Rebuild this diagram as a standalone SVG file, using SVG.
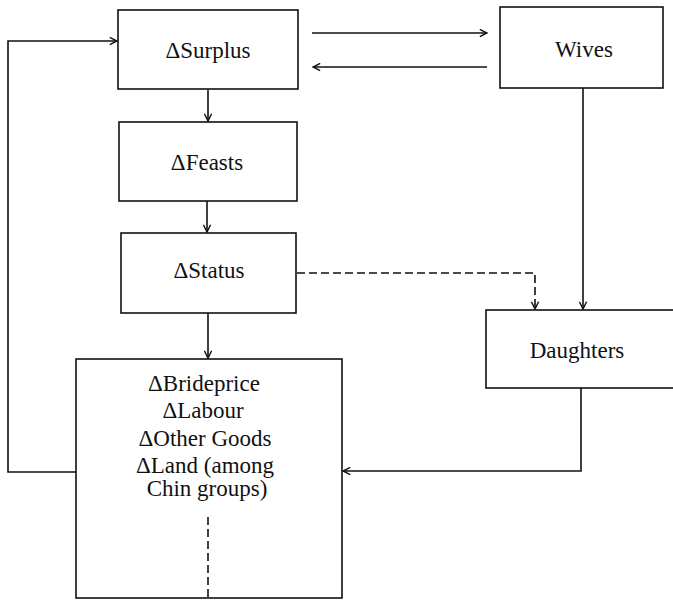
<svg xmlns="http://www.w3.org/2000/svg" width="673" height="602" viewBox="0 0 673 602">
<style>
.box{fill:#fff;stroke:#111;stroke-width:1.6}
.t{font-family:"Liberation Serif","DejaVu Serif",serif;font-size:23px;fill:#111;text-anchor:middle}
.c{fill:none;stroke:#111;stroke-width:1.6}
.d{fill:none;stroke:#111;stroke-width:1.6;stroke-dasharray:8 4}
</style>
<defs>
<marker id="ah" viewBox="0 0 10 10" refX="9" refY="5" markerWidth="9" markerHeight="9" markerUnits="userSpaceOnUse" orient="auto">
<path d="M1,1 L9,5 L1,9" fill="none" stroke="#111" stroke-width="1.6"/>
</marker>
</defs>
<g id="surplus">
<rect class="box" x="118" y="10" width="180" height="79"/>
<text class="t" x="208" y="58">ΔSurplus</text>
</g>
<g id="wives">
<rect class="box" x="500" y="7" width="163" height="81"/>
<text class="t" x="584" y="57">Wives</text>
</g>
<g id="feasts">
<rect class="box" x="119" y="122" width="178" height="79"/>
<text class="t" x="207" y="170">ΔFeasts</text>
</g>
<g id="status">
<rect class="box" x="121" y="233" width="175" height="80"/>
<text class="t" x="209" y="278">ΔStatus</text>
</g>
<g id="daughters">
<rect class="box" x="486" y="310" width="200" height="78"/>
<text class="t" x="577" y="358">Daughters</text>
</g>
<g id="outcomes">
<rect class="box" x="76" y="359" width="266" height="239"/>
<text class="t" x="204" y="391">ΔBrideprice</text>
<text class="t" x="203" y="418">ΔLabour</text>
<text class="t" x="205" y="446">ΔOther Goods</text>
<text class="t" x="205" y="473">ΔLand (among</text>
<text class="t" x="207" y="496">Chin groups)</text>
</g>
<g id="connectors">
<line class="c" x1="312" y1="33" x2="487" y2="33" marker-end="url(#ah)"/>
<line class="c" x1="487" y1="67" x2="313" y2="67" marker-end="url(#ah)"/>
<line class="c" x1="208" y1="90" x2="208" y2="121" marker-end="url(#ah)"/>
<line class="c" x1="207" y1="201" x2="207" y2="232" marker-end="url(#ah)"/>
<line class="c" x1="208" y1="313" x2="208" y2="358" marker-end="url(#ah)"/>
<line class="c" x1="583" y1="88" x2="583" y2="309" marker-end="url(#ah)"/>
<polyline class="d" points="297,273 535,273 535,309" marker-end="url(#ah)"/>
<polyline class="c" points="581,388 581,471 343,471" marker-end="url(#ah)"/>
<polyline class="c" points="76,472 8,472 8,41 117,41" marker-end="url(#ah)"/>
<line class="d" x1="208" y1="517" x2="208" y2="597"/>
</g>
</svg>
